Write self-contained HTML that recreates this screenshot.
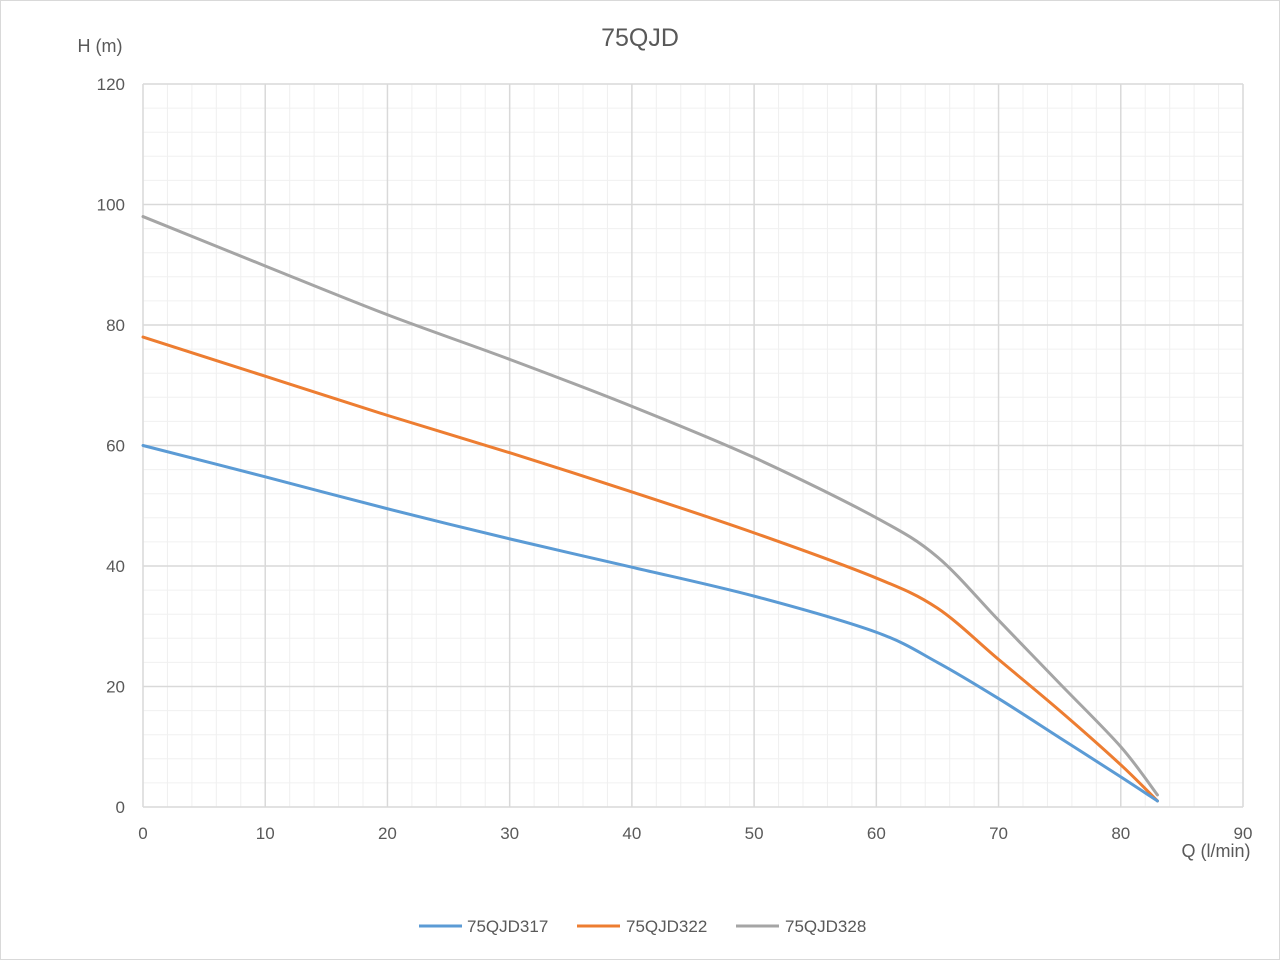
<!DOCTYPE html>
<html><head><meta charset="utf-8"><style>
html,body{margin:0;padding:0;background:#fff;}
svg{display:block;font-family:"Liberation Sans",sans-serif;}
</style></head><body>
<svg id="s" width="1280" height="960" xmlns="http://www.w3.org/2000/svg">
<rect x="0.5" y="0.5" width="1279" height="959" fill="#fff" stroke="#d9d9d9"/>
<g id="grid"></g>
<g id="lines" fill="none" stroke-width="3" stroke-linejoin="round" stroke-linecap="round"></g>
<text x="640" y="46" font-size="25" fill="#595959" text-anchor="middle">75QJD</text>
<text x="100" y="52" font-size="18" fill="#595959" text-anchor="middle">H (m)</text>
<text x="1216" y="857" font-size="18" fill="#595959" text-anchor="middle">Q (l/min)</text>
<g id="labels" font-size="17" fill="#595959"></g>
<g font-size="17" fill="#595959">
<line x1="419" y1="926" x2="462" y2="926" stroke="#5b9bd5" stroke-width="3"/>
<text x="467" y="932">75QJD317</text>
<line x1="577" y1="926" x2="620" y2="926" stroke="#ed7d31" stroke-width="3"/>
<text x="626" y="932">75QJD322</text>
<line x1="736" y1="926" x2="779" y2="926" stroke="#a5a5a5" stroke-width="3"/>
<text x="785" y="932">75QJD328</text>
</g>
</svg>
<script>
const NS="http://www.w3.org/2000/svg";
const X=q=>143+q*1100/90, Y=h=>807-h*723/120;
const g=document.getElementById('grid'), L=document.getElementById('labels'), ln=document.getElementById('lines');
function el(p,tag,a,t){const e=document.createElementNS(NS,tag);for(const k in a)e.setAttribute(k,a[k]);if(t!=null)e.textContent=t;p.appendChild(e);return e;}
for(let q=0;q<=90;q+=2){if(q%10)el(g,'line',{x1:X(q),x2:X(q),y1:84,y2:807,stroke:'#f0f0f0','stroke-width':1});}
for(let h=0;h<=120;h+=4){if(h%20)el(g,'line',{x1:143,x2:1243,y1:Y(h),y2:Y(h),stroke:'#f0f0f0','stroke-width':1});}
for(let q=0;q<=90;q+=10){el(g,'line',{x1:X(q),x2:X(q),y1:84,y2:807,stroke:'#d9d9d9','stroke-width':1.5});el(L,'text',{x:X(q),y:839,'text-anchor':'middle'},q);}
for(let h=0;h<=120;h+=20){el(g,'line',{x1:143,x2:1243,y1:Y(h),y2:Y(h),stroke:'#d9d9d9','stroke-width':1.5});el(L,'text',{x:125,y:Y(h)+6,'text-anchor':'end'},h);}
const series=[
['#a5a5a5',[[0,98],[10,89.8],[20,81.7],[30,74.3],[40,66.5],[50,58],[60,48],[65,41.5],[70,31],[75,20.5],[80,10],[83,2]]],
['#ed7d31',[[0,78],[10,71.5],[20,65],[30,58.8],[40,52.3],[50,45.5],[60,38],[65,33],[70,24.5],[75,16],[80,7],[83,1]]],
['#5b9bd5',[[0,60],[10,54.8],[20,49.5],[30,44.5],[40,39.8],[50,35],[60,29],[65,24],[70,18],[75,11.5],[80,5],[83,1]]]];
for(const [c,d] of series){
 const p=d.map(([q,h])=>[X(q),Y(h)]);
 let s=`M${p[0][0]},${p[0][1]}`;
 for(let i=0;i<p.length-1;i++){
  const p0=p[Math.max(0,i-1)],p1=p[i],p2=p[i+1],p3=p[Math.min(p.length-1,i+2)];
  const t=0.16;
  s+=` C${p1[0]+(p2[0]-p0[0])*t},${p1[1]+(p2[1]-p0[1])*t} ${p2[0]-(p3[0]-p1[0])*t},${p2[1]-(p3[1]-p1[1])*t} ${p2[0]},${p2[1]}`;
 }
 el(ln,'path',{d:s,stroke:c});
}
</script>
</body></html>
